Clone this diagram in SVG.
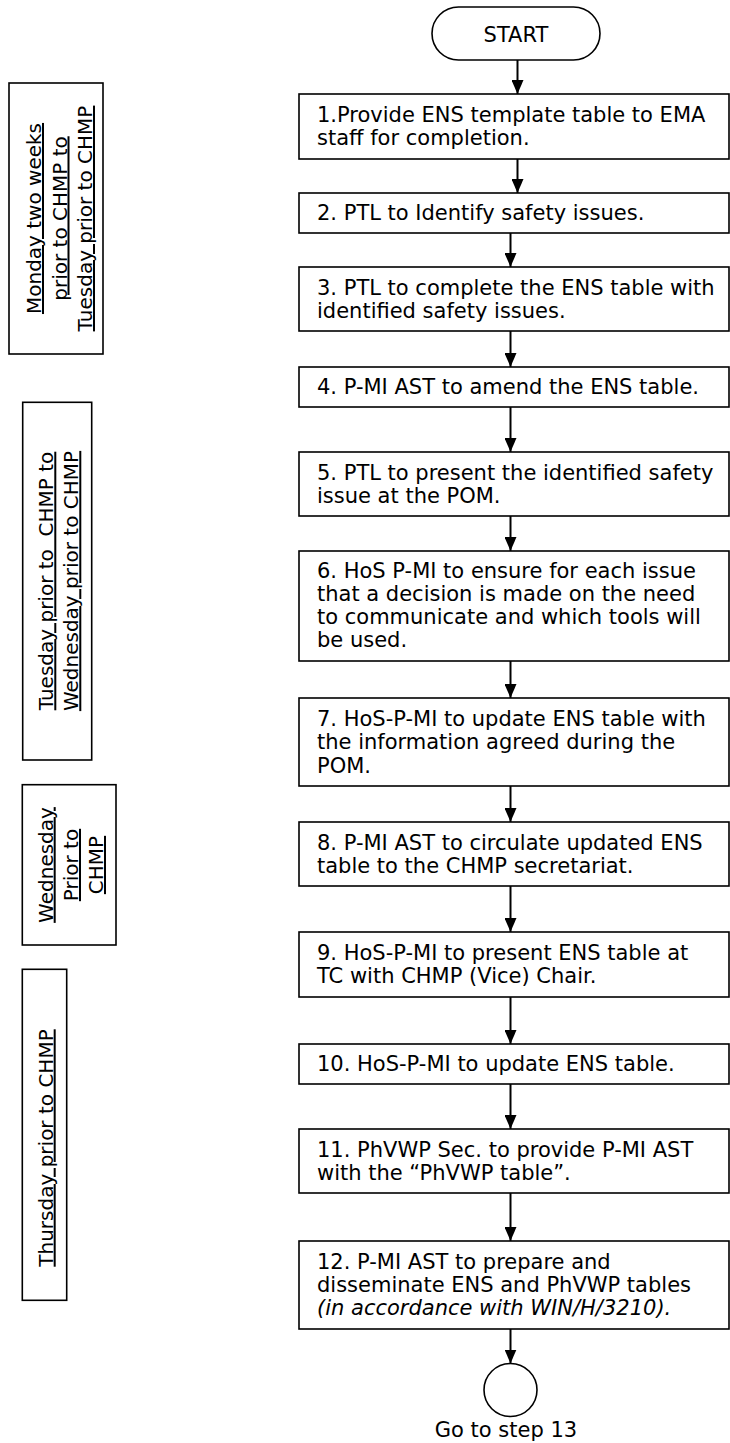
<svg xmlns="http://www.w3.org/2000/svg" width="730" height="1443" viewBox="0 0 730 1443">
<style>
.box{fill:#fff;stroke:#000;stroke-width:1.6}
.t{font-family:"DejaVu Sans","Verdana",sans-serif;font-size:21px;fill:#000}
.lt{font-family:"DejaVu Sans","Verdana",sans-serif;font-size:20px;fill:#000;text-decoration:underline;text-anchor:middle}
.c line{stroke:#000;stroke-width:2;marker-end:url(#ah)}
</style>
<defs>
<marker id="ah" markerUnits="userSpaceOnUse" markerWidth="14" markerHeight="12" refX="14" refY="6" orient="auto">
<path d="M0,0 L14,6 L0,12 z" fill="#000"/>
</marker>
</defs>
<rect width="730" height="1443" fill="#fff"/>

<g id="period1">
<rect class="box" x="9" y="83" width="94" height="271"/>
<g transform="translate(0,218.5) rotate(-90)">
<text class="lt" x="0" y="41">Monday two weeks</text>
<text class="lt" x="0" y="66.5">prior to CHMP to</text>
<text class="lt" x="0" y="92">Tuesday prior to CHMP</text>
</g>
</g>
<g id="period2">
<rect class="box" x="22.7" y="402.3" width="69" height="357.7"/>
<g transform="translate(0,581) rotate(-90)">
<text class="lt" x="0" y="53.3" xml:space="preserve">Tuesday prior to  CHMP to</text>
<text class="lt" x="0" y="78.3">Wednesday prior to CHMP</text>
</g>
</g>
<g id="period3">
<rect class="box" x="22.3" y="784.7" width="93.7" height="160.3"/>
<g transform="translate(0,865) rotate(-90)">
<text class="lt" x="0" y="52.7">Wednesday</text>
<text class="lt" x="0" y="78">Prior to</text>
<text class="lt" x="0" y="103">CHMP</text>
</g>
</g>
<g id="period4">
<rect class="box" x="22.3" y="969.3" width="44.4" height="331"/>
<g transform="translate(0,1148) rotate(-90)">
<text class="lt" x="0" y="52.7">Thursday prior to CHMP</text>
</g>
</g>

<g id="connectors" class="c">
<line x1="517.5" y1="60" x2="517.5" y2="94"/>
<line x1="517.5" y1="159" x2="517.5" y2="193"/>
<line x1="510.5" y1="233" x2="510.5" y2="267"/>
<line x1="510.5" y1="331" x2="510.5" y2="367"/>
<line x1="510.5" y1="407" x2="510.5" y2="452"/>
<line x1="510.5" y1="516" x2="510.5" y2="551"/>
<line x1="510.5" y1="661" x2="510.5" y2="698"/>
<line x1="510.5" y1="786" x2="510.5" y2="822"/>
<line x1="510.5" y1="886" x2="510.5" y2="932"/>
<line x1="510.5" y1="997" x2="510.5" y2="1044"/>
<line x1="510.5" y1="1084" x2="510.5" y2="1129"/>
<line x1="510.5" y1="1193" x2="510.5" y2="1241"/>
<line x1="510.5" y1="1329" x2="510.5" y2="1363.5"/>
</g>

<g id="start">
<rect class="box" x="432" y="7" width="168" height="53" rx="26.5" ry="26.5"/>
<text class="t" x="516" y="42.3" text-anchor="middle">START</text>
</g>
<g id="step1">
<rect class="box" x="299" y="94" width="430" height="65"/>
<text class="t" x="317" y="121.5">1.Provide ENS template table to EMA</text>
<text class="t" x="317" y="144.8">staff for completion.</text>
</g>
<g id="step2">
<rect class="box" x="299" y="193" width="430" height="40"/>
<text class="t" x="317" y="220">2. PTL to Identify safety issues.</text>
</g>
<g id="step3">
<rect class="box" x="299" y="267" width="430" height="64"/>
<text class="t" x="317" y="294.5">3. PTL to complete the ENS table with</text>
<text class="t" x="317" y="317.8">identified safety issues.</text>
</g>
<g id="step4">
<rect class="box" x="299" y="367" width="430" height="40"/>
<text class="t" x="317" y="394">4. P-MI AST to amend the ENS table.</text>
</g>
<g id="step5">
<rect class="box" x="299" y="452" width="430" height="64"/>
<text class="t" x="317" y="479.5">5. PTL to present the identified safety</text>
<text class="t" x="317" y="502.8">issue at the POM.</text>
</g>
<g id="step6">
<rect class="box" x="299" y="551" width="430" height="110"/>
<text class="t" x="317" y="577.5">6. HoS P-MI to ensure for each issue</text>
<text class="t" x="317" y="600.8">that a decision is made on the need</text>
<text class="t" x="317" y="624.1">to communicate and which tools will</text>
<text class="t" x="317" y="647.4">be used.</text>
</g>
<g id="step7">
<rect class="box" x="299" y="698" width="430" height="88"/>
<text class="t" x="317" y="726">7. HoS-P-MI to update ENS table with</text>
<text class="t" x="317" y="749.3">the information agreed during the</text>
<text class="t" x="317" y="772.6">POM.</text>
</g>
<g id="step8">
<rect class="box" x="299" y="822" width="430" height="64"/>
<text class="t" x="317" y="850">8. P-MI AST to circulate updated ENS</text>
<text class="t" x="317" y="873.3">table to the CHMP secretariat.</text>
</g>
<g id="step9">
<rect class="box" x="299" y="932" width="430" height="65"/>
<text class="t" x="317" y="960">9. HoS-P-MI to present ENS table at</text>
<text class="t" x="317" y="983.3">TC with CHMP (Vice) Chair.</text>
</g>
<g id="step10">
<rect class="box" x="299" y="1044" width="430" height="40"/>
<text class="t" x="317" y="1071">10. HoS-P-MI to update ENS table.</text>
</g>
<g id="step11">
<rect class="box" x="299" y="1129" width="430" height="64"/>
<text class="t" x="317" y="1156.5">11. PhVWP Sec. to provide P-MI AST</text>
<text class="t" x="317" y="1179.8">with the “PhVWP table”.</text>
</g>
<g id="step12">
<rect class="box" x="299" y="1241" width="430" height="88"/>
<text class="t" x="317" y="1268.5">12. P-MI AST to prepare and</text>
<text class="t" x="317" y="1291.8">disseminate ENS and PhVWP tables</text>
<text class="t" x="317" y="1315.1" font-style="italic">(in accordance with WIN/H/3210).</text>
</g>
<g id="end">
<circle cx="510.5" cy="1390" r="26.5" fill="#fff" stroke="#000" stroke-width="1.6"/>
<text class="t" x="506" y="1437" text-anchor="middle">Go to step 13</text>
</g>
</svg>
